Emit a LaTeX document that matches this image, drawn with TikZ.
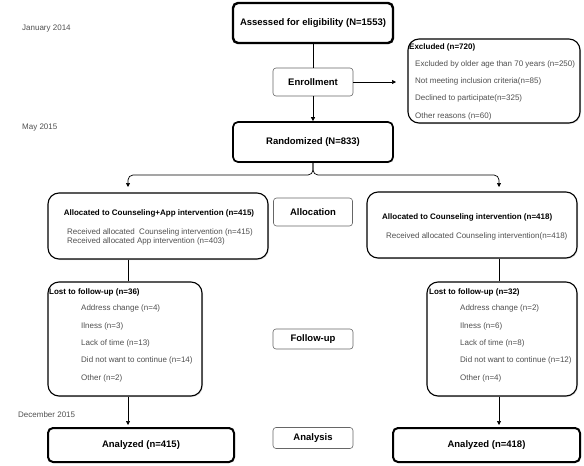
\documentclass[tikz,border=0pt]{standalone}
\usepackage{fontspec}
\setmainfont{Liberation Sans}
\usepackage{xcolor}
\usepackage{tikz}
\usetikzlibrary{arrows.meta,positioning,shadows}
\definecolor{txtgray}{HTML}{505050}
\tikzset{
  shade/.style={drop shadow={opacity=0.25, shadow xshift=1pt, shadow yshift=-1pt}},
  bigbox/.style={draw, fill=white, shade, rounded corners=5pt, line width=2.4pt, font=\fontsize{9.5}{11}\selectfont\bfseries},
  midbox/.style={bigbox, line width=1.7pt},
  tagbox/.style={draw=black!60, rounded corners=3pt, line width=0.6pt, font=\fontsize{9.5}{11}\selectfont\bfseries},
  listbox/.style={draw, fill=white, shade, rounded corners=11pt, line width=1.1pt},
  head/.style={anchor=west, inner sep=0pt, font=\fontsize{8}{9.5}\selectfont\bfseries},
  item/.style={anchor=west, inner sep=0pt, text=txtgray, align=left, font=\fontsize{8}{9.5}\selectfont},
  arr/.style={-{Triangle[length=4pt,width=4pt]}, line width=0.7pt},
  conn/.style={line width=0.7pt}
}
\begin{document}
\begin{tikzpicture}[x=1pt,y=-1pt]
\useasboundingbox (0,0) rectangle (584,466);

% dates
\node[item] (jan) at (22,29) {January 2014};
\node[item] (may) at (22,128) {May 2015};
\node[item] (dec) at (18,415) {December 2015};

% enrollment
\node[bigbox, minimum width=160pt, minimum height=40pt] (assess) at (313,23) {Assessed for eligibility (N=1553)};
\node[tagbox, minimum width=80pt, minimum height=28pt] (enrol) at (313,82) {Enrollment};
\node[listbox, minimum width=172pt, minimum height=84pt] (excl) at (494,81) {};
\node[head] (exclhead) at (409,47) {Excluded (n=720)};
\node[item] (ex1) at (415,64) {Excluded by older age than 70 years (n=250)};
\node[item] (ex2) at (415,81) {Not meeting inclusion criteria(n=85)};
\node[item] (ex3) at (415,98) {Declined to participate(n=325)};
\node[item] (ex4) at (415,116) {Other reasons (n=60)};
\coordinate (exclend) at (396,82);
\node[midbox, minimum width=160pt, minimum height=40pt] (rand) at (313,142) {Randomized (N=833)};

% allocation
\node[listbox, minimum width=220pt, minimum height=66pt] (allocL) at (158,226) {};
\node[head, anchor=center] (allocLhead) at (159,213) {Allocated to Counseling+App intervention (n=415)};
\node[item, font=\fontsize{8}{9}\selectfont] (allocLtxt) at (67,236.5) {Received allocated \ Counseling intervention (n=415)\\Received allocated App intervention (n=403)};
\node[tagbox, minimum width=79pt, minimum height=28pt] (alloc) at (313,212) {Allocation};
\node[listbox, minimum width=210pt, minimum height=66pt] (allocR) at (472,225) {};
\node[head] (allocRhead) at (382,217) {Allocated to Counseling intervention (n=418)};
\node[item] (allocRtxt) at (386,236) {Received allocated Counseling intervention(n=418)};

% follow-up
\node[listbox, minimum width=154pt, minimum height=114pt] (lostL) at (125,339) {};
\node[head] (lostLhead) at (49,292) {Lost to follow-up (n=36)};
\node[item] (lL1) at (81,308) {Address change (n=4)};
\node[item] (lL2) at (81,326) {Ilness (n=3)};
\node[item] (lL3) at (81,343) {Lack of time (n=13)};
\node[item] (lL4) at (81,360) {Did not want to continue (n=14)};
\node[item] (lL5) at (81,378) {Other (n=2)};
\node[tagbox, minimum width=80pt, minimum height=20pt] (follow) at (313,339) {Follow-up};
\node[listbox, minimum width=150pt, minimum height=114pt] (lostR) at (502,339) {};
\node[head] (lostRhead) at (429,292) {Lost to follow-up (n=32)};
\node[item] (lR1) at (460,308) {Address change (n=2)};
\node[item] (lR2) at (460,326) {Ilness (n=6)};
\node[item] (lR3) at (460,343) {Lack of time (n=8)};
\node[item] (lR4) at (460,360) {Did not want to continue (n=12)};
\node[item] (lR5) at (460,378) {Other (n=4)};

% analysis
\node[bigbox, line width=2pt, minimum width=186pt, minimum height=34pt] (anaL) at (141,445) {Analyzed (n=415)};
\node[tagbox, minimum width=80pt, minimum height=21pt] (analysis) at (313,438) {Analysis};
\node[bigbox, line width=2pt, minimum width=187pt, minimum height=34pt] (anaR) at (486.5,445) {Analyzed (n=418)};

% connectors
\coordinate (split) at (313,175);
\coordinate (toL) at (128,187);
\coordinate (toR) at (499,187);
\draw[conn] (assess) -- (enrol);
\draw[arr] (enrol.east) -- (exclend);
\draw[arr] (enrol) -- (rand);
\draw[arr, rounded corners=5pt] (rand.south) -- (split) -| (toL);
\draw[arr, rounded corners=5pt] (rand.south) -- (split) -| (toR);
\draw[conn] (toL |- allocL.south) -- (toL |- lostL.north);
\draw[conn] (toR |- allocR.south) -- (toR |- lostR.north);
\draw[arr] (toL |- lostL.south) -- ([yshift=2pt]toL |- anaL.north);
\draw[arr] (toR |- lostR.south) -- ([yshift=2pt]toR |- anaR.north);
\end{tikzpicture}
\end{document}
